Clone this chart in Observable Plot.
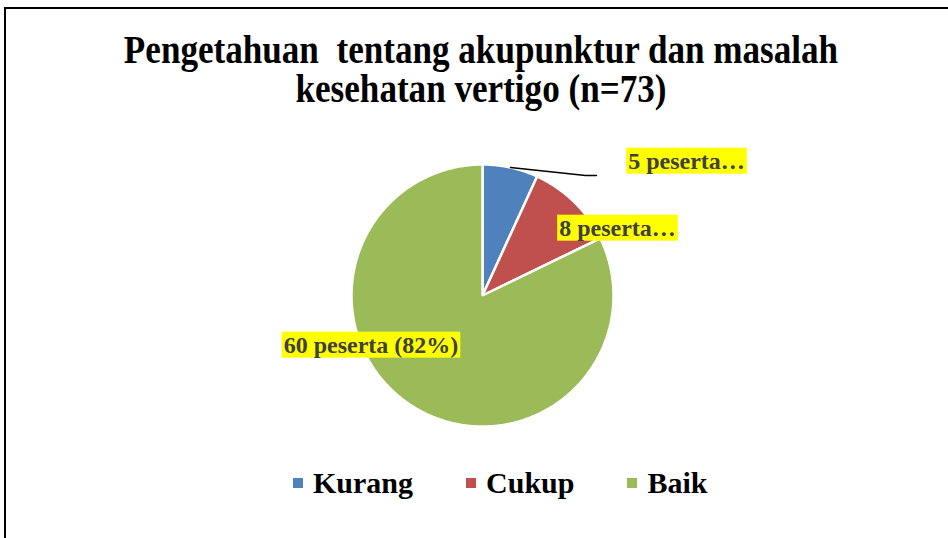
<!DOCTYPE html>
<html>
<head>
<meta charset="utf-8">
<script src="https://cdn.jsdelivr.net/npm/d3@7"></script>
<script src="https://cdn.jsdelivr.net/npm/@observablehq/plot@0.6"></script>
<style>
  html, body { margin: 0; padding: 0; background: #fff; }
  #chart { position: relative; width: 948px; height: 538px; overflow: hidden; background: #fff; }
  #frame { position: absolute; left: 4px; top: 7px; width: 1200px; height: 1200px;
           border-left: 2px solid #000; border-top: 2px solid #000; }
  #title { position: absolute; left: 0; top: 30px; width: 962px; text-align: center;
           font-family: "Liberation Serif", serif; font-weight: bold; font-size: 39px; line-height: 39px;
           color: #000; white-space: pre; transform: scaleX(0.9); }
  #plot { position: absolute; left: 0; top: 0; }
  #legend { position: absolute; left: 293px; top: 466px; }
  #legend .lg-swatches { font: bold 30px "Liberation Serif", serif !important; color: #000 !important; min-height: 34px !important; }
  #legend .lg-swatch { margin-right: 53px !important; }
  #legend .lg-swatch > svg { margin-right: 10px !important; }
</style>
</head>
<body>
<div id="chart">
  <div id="frame"></div>
  <div id="plot"></div>
  <div id="title"></div>
  <div id="legend"></div>
</div>
<script>
// ---- data ----
const titleLines = ["Pengetahuan  tentang akupunktur dan masalah", "kesehatan vertigo (n=73)"];
const categories = ["Kurang", "Cukup", "Baik"];
const values = [5, 8, 60];
const labels = ["5 peserta\u2026", "8 peserta\u2026", "60 peserta (82%)"];
const colors = ["#4F81BD", "#C0504D", "#9BBB59"];

// ---- layout (pixels) ----
const W = 948, H = 538;
const cx = 482, cy = 295, R = 131;
const labelPos = [[686, 160.5], [617, 227.5], [370.5, 344.5]];
const leaderEnd = [[585, 175], [596, 175]];
const toUX = px => (px - cx) / R;
const toUY = py => (cy - py) / R;

document.getElementById("title").textContent = titleLines.join("\n");

// pie geometry from values
const arcs = d3.pie().sort(null).value(d => d.value)(
  categories.map((c, i) => ({cat: c, value: values[i], label: labels[i]}))
);
const slicePts = [];
arcs.forEach(a => {
  slicePts.push({cat: a.data.cat, x: 0, y: 0});
  const n = Math.max(4, Math.ceil((a.endAngle - a.startAngle) / 0.01));
  for (let k = 0; k <= n; k++) {
    const t = a.startAngle + (a.endAngle - a.startAngle) * k / n;
    slicePts.push({cat: a.data.cat, x: Math.sin(t), y: Math.cos(t)});
  }
});

const labelData = arcs.map((a, i) => ({label: a.data.label, x: toUX(labelPos[i][0]), y: toUY(labelPos[i][1])}));

const mid0 = (arcs[0].startAngle + arcs[0].endAngle) / 2;
const leader = [{x: Math.sin(mid0), y: Math.cos(mid0)}, ...leaderEnd.map(p => ({x: toUX(p[0]), y: toUY(p[1])}))];

const plot = Plot.plot({
  width: W, height: H,
  marginTop: 0, marginRight: 0, marginBottom: 0, marginLeft: 0,
  x: {type: "linear", domain: [-1, 1], range: [cx - R, cx + R], axis: null},
  y: {type: "linear", domain: [-1, 1], range: [cy + R, cy - R], axis: null},
  color: {domain: categories, range: colors},
  style: {background: "transparent", overflow: "visible"},
  marks: [
    Plot.line(slicePts, {x: "x", y: "y", z: "cat", fill: "cat", stroke: "white", strokeWidth: 2.5, curve: "linear-closed", strokeLinejoin: "miter"}),
    Plot.line(leader, {x: "x", y: "y", stroke: "#000", strokeWidth: 1.3}),
    Plot.text(labelData, {x: "x", y: "y", text: "label", fill: "#404040", fontSize: 24, fontWeight: "bold",
      fontFamily: "Liberation Serif, serif", textAnchor: "middle", lineAnchor: "middle"})
  ]
});
document.getElementById("plot").appendChild(plot);

// yellow label backgrounds
plot.querySelectorAll('g[aria-label="text"] text').forEach(t => {
  const bb = t.getBBox();
  const rect = document.createElementNS("http://www.w3.org/2000/svg", "rect");
  rect.setAttribute("x", bb.x - 2);
  rect.setAttribute("y", bb.y);
  rect.setAttribute("width", bb.width + 4);
  rect.setAttribute("height", bb.height);
  rect.setAttribute("fill", "#FFFF00");
  rect.setAttribute("stroke", "none");
  const tr = t.getAttribute("transform");
  if (tr) rect.setAttribute("transform", tr);
  t.parentNode.insertBefore(rect, t);
});

const legend = Plot.legend({
  color: {domain: categories, range: colors},
  legend: "swatches",
  swatchSize: 10,
  className: "lg"
});
document.getElementById("legend").appendChild(legend);
</script>
</body>
</html>
